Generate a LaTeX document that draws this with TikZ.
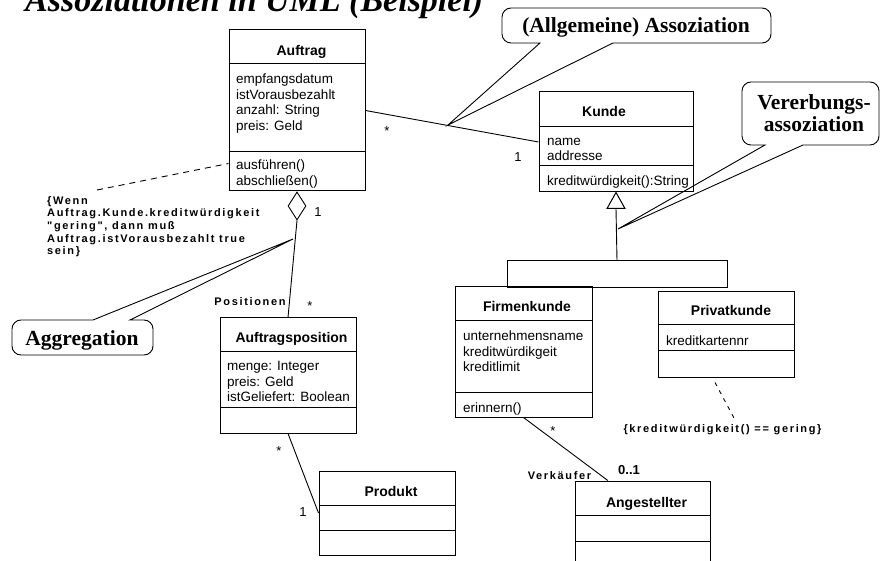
\documentclass[tikz,border=0pt]{standalone}
\usepackage{fontspec}
\setmainfont{Liberation Sans}
\newfontfamily\calloutfont{Liberation Serif}
\newfontfamily\spacedfont{Liberation Sans}[LetterSpace=15]
\usetikzlibrary{shapes.geometric,calc}

% UML class box: #1 name, #2 left, #3 top, #4 right, #5 bottom, #6/#7 compartment separators
\newcommand\umlclass[7]{%
  \node[classbox, minimum width={#4-#2}, minimum height={#5-#3}] (#1) at ({(#2+#4)/2},{(#3+#5)/2}) {};
  \draw[compline] (#2,#6) -- (#4,#6) (#2,#7) -- (#4,#7);
}

\begin{document}
\begin{tikzpicture}[x=1pt, y=-1pt,
  classbox/.style={draw, rectangle, line width=1pt, inner sep=0pt},
  compline/.style={line width=1pt},
  cname/.style={anchor=base, inner sep=0pt, font=\fontsize{14}{16}\selectfont\bfseries},
  attr/.style={anchor=base west, inner sep=0pt, font=\fontsize{13.5}{15.7}\selectfont},
  mult/.style={inner sep=0pt, font=\fontsize{13}{15}\selectfont},
  rolelabel/.style={inner sep=0pt, font=\spacedfont\fontsize{11}{12.7}\selectfont\bfseries},
  assoc/.style={line width=0.9pt},
  notelink/.style={line width=0.9pt, dash pattern=on 6pt off 5pt},
  bubble/.style={line width=0.9pt},
  bubbletext/.style={inner sep=0pt, font=\calloutfont\fontsize{21.5}{22.5}\selectfont\bfseries}
]
\useasboundingbox (0,0) rectangle (881,561);

% title
\node[anchor=base west, inner sep=0pt, font=\calloutfont\fontsize{34}{40}\selectfont\bfseries\itshape] (title) at (25,12) {Assoziationen in UML (Beispiel)};

% class boxes
\umlclass{auftrag}{229}{30}{365}{191}{64}{152}
\umlclass{kunde}{539}{92}{693}{192}{127}{166}
\umlclass{apos}{220}{318}{356}{433}{352}{407}
\umlclass{produkt}{319}{471}{455}{555}{505}{530}
\node[classbox, minimum width=220, minimum height=27] (gset) at (617,274.5) {};
\umlclass{firmen}{455}{287}{592}{417}{321}{392}
\umlclass{privat}{658}{292}{794}{377}{325}{351}
\umlclass{angest}{575}{481}{710}{600}{515}{541}

% class names
\node[cname] (auftrag-n) at (301.5,56) {Auftrag};
\node[cname] (kunde-n) at (604,117) {Kunde};
\node[cname] (apos-n) at (291.5,342) {Auftragsposition};
\node[cname] (produkt-n) at (391,496) {Produkt};
\node[cname] (firmen-n) at (527,312) {Firmenkunde};
\node[cname] (privat-n) at (731,316) {Privatkunde};
\node[cname] (angest-n) at (646.5,507) {Angestellter};

% attributes and operations
\node[attr] (au1) at (236,83.5) {empfangsdatum};
\node[attr] (au2) at (236,99.2) {istVorausbezahlt};
\node[attr] (au3) at (236,114.9) {anzahl: String};
\node[attr] (au4) at (236,130.6) {preis: Geld};
\node[attr] (au5) at (236,170) {ausführen()};
\node[attr] (au6) at (236,186) {abschließen()};

\node[attr] (ku1) at (547,146) {name};
\node[attr] (ku2) at (547,161) {addresse};
\node[attr] (ku3) at (547,185.5) {kreditwürdigkeit():String};

\node[attr] (ap1) at (227,370.7) {menge: Integer};
\node[attr] (ap2) at (227,386.2) {preis: Geld};
\node[attr] (ap3) at (227,401.7) {istGeliefert: Boolean};

\node[attr] (fk1) at (463,340.7) {unternehmensname};
\node[attr] (fk2) at (463,356) {kreditwürdikgeit};
\node[attr] (fk3) at (463,371.3) {kreditlimit};
\node[attr] (fk4) at (463,412.7) {erinnern()};

\node[attr] (pk1) at (666,345) {kreditkartennr};

% generalization
\draw[compline, fill=white] (kunde.south) -- ++(-9,16) -- ++(18,0) -- cycle;
\coordinate (genbase) at ($(kunde.south)+(0,16)$);
\draw[assoc] (genbase) -- (gset.north);

% aggregation diamond
\node[draw, diamond, line width=0.9pt, minimum width=18, minimum height=28, inner sep=0pt, anchor=north] (aggd) at (auftrag.south) {};

% associations
\draw[assoc] (auftrag.east) -- (kunde.west);
\draw[assoc] (aggd.south) -- (apos.north);
\draw[assoc] (apos.south) -- (produkt.west);
\draw[assoc] (firmen.south) -- ($(angest.north west)!0.245!(angest.north east)$);

% multiplicities and role names
\node[mult] (m1) at (387,131) {*};
\node[mult] (m2) at (518,157) {1};
\node[mult] (m3) at (318,212) {1};
\node[mult] (m4) at (310,306) {*};
\node[mult] (m5) at (279,451) {*};
\node[mult] (m6) at (303,512) {1};
\node[mult] (m7) at (553,431) {*};
\node[rolelabel, anchor=base] (role1) at (250,305.5) {Positionen};
\node[rolelabel, anchor=base] (role2) at (559.5,479) {Verkäufer};
\node[anchor=base, inner sep=0pt, font=\fontsize{13}{15}\selectfont\bfseries] (m8) at (629,474) {0..1};

% constraints
\node[rolelabel, anchor=north west, align=left] (note) at (47,196) {\{Wenn\\Auftrag.Kunde.kreditwürdigkeit\\"gering", dann muß\\Auftrag.istVorausbezahlt true\\sein\}};
\draw[notelink] ($(note.north west)+(50,-6)$) -- ($(auftrag.south west)+(0,-28)$);
\node[rolelabel, anchor=base] (constr) at (722.5,432) {\{kreditwürdigkeit() == gering\}};
\draw[line width=0.9pt, dash pattern=on 4pt off 5pt] ($(privat.south)+(-11,5)$) -- ($(constr.north)+(13,-3)$);

% callouts
\draw[bubble] (613,43) [rounded corners=9pt] -- (771,43) -- (771,8) -- (502,8) -- (502,43) [sharp corners] -- (540,43) -- (448,125) -- cycle;
\node[bubbletext, anchor=base] (c1) at (636,33) {(Allgemeine) Assoziation};

\draw[bubble] (803,145) [rounded corners=9pt] -- (879,145) -- (879,82) -- (742,82) -- (742,145) [sharp corners] -- (765,145) -- (618,229) -- cycle;
\node[bubbletext, anchor=north, align=center] (c2) at (814,94) {Vererbungs-\\assoziation};

\draw[bubble] (130,320) [rounded corners=9pt] -- (153,320) -- (153,355) -- (12,355) -- (12,320) [sharp corners] -- (93,320) -- (293,239) -- cycle;
\node[bubbletext, anchor=base] (c3) at (82,345) {Aggregation};
\end{tikzpicture}
\end{document}
